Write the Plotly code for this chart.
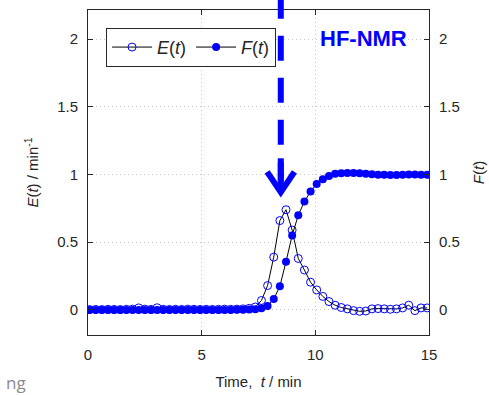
import plotly.graph_objects as go

# ---- data ----
time_min = [0.07, 0.34, 0.61, 0.88, 1.15, 1.42, 1.69, 1.96, 2.23, 2.50,
            2.77, 3.04, 3.31, 3.58, 3.85, 4.12, 4.39, 4.66, 4.93, 5.20,
            5.47, 5.74, 6.01, 6.28, 6.55, 6.82, 7.09, 7.36, 7.63, 7.90,
            8.17, 8.44, 8.71, 8.98, 9.25, 9.52, 9.79, 10.06, 10.33, 10.60,
            10.87, 11.14, 11.41, 11.68, 11.95, 12.22, 12.49, 12.76, 13.03, 13.30,
            13.57, 13.84, 14.11, 14.38, 14.65, 14.92]
E_t = [0.003, 0.004, 0.003, 0.005, 0.004, 0.003, 0.005, 0.006, 0.015, 0.006,
       0.004, 0.016, 0.005, 0.004, 0.005, 0.004, 0.006, 0.005, 0.004, 0.005,
       0.004, 0.005, 0.006, 0.005, 0.006, 0.008, 0.012, 0.022, 0.07, 0.18,
       0.39, 0.66, 0.74, 0.59, 0.38, 0.295, 0.205, 0.148, 0.10, 0.062,
       0.035, 0.018, 0.008, -0.005, -0.01, -0.008, 0.008, 0.01, 0.008, 0.005,
       0.008, 0.015, 0.035, -0.005, 0.015, 0.015]
F_t = [0.0, 0.0, 0.0, 0.0, 0.0, 0.0, 0.0, 0.0, 0.0, 0.0,
       0.0, 0.0, 0.0, 0.0, 0.0, 0.0, 0.0, 0.0, 0.0, 0.0,
       0.0, 0.0, 0.0, 0.0, 0.001, 0.002, 0.003, 0.005, 0.012, 0.03,
       0.08, 0.175, 0.356, 0.55, 0.70, 0.80, 0.875, 0.93, 0.965, 0.99,
       1.005, 1.01, 1.012, 1.012, 1.01, 1.006, 1.002, 0.999, 0.998, 0.997,
       0.997, 0.998, 1.0, 1.0, 0.998, 0.998]
tick_vals = [0, 0.5, 1, 1.5, 2]
tick_text = ["0", "0.5", "1", "1.5", "2"]
x_ticks = [0, 5, 10, 15]
arrow_t = 8.48
arrow_tip = 0.87

BLUE = "#0000ff"
AX = "#262626"
FONT = "Liberation Sans, Arial, sans-serif"

fig = go.Figure()
fig.add_trace(go.Scatter(
    x=time_min, y=F_t, mode="lines+markers", name="<i>F</i>(<i>t</i>)",
    line=dict(color="black", width=1),
    marker=dict(symbol="circle", size=8, color=BLUE),
    legendrank=2, yaxis="y2"))
fig.add_trace(go.Scatter(
    x=time_min, y=E_t, mode="lines+markers", name="<i>E</i>(<i>t</i>)",
    line=dict(color="black", width=1),
    marker=dict(symbol="circle-open", size=8, color=BLUE, line=dict(width=1)),
    legendrank=1))

yr = [-0.185, 2.215]
common_axis = dict(showline=True, linecolor=AX, linewidth=1, ticks="inside",
                   ticklen=5, tickcolor=AX, zeroline=False, automargin=False,
                   tickfont=dict(family=FONT, size=15, color=AX))
GRID = dict(showgrid=True, gridcolor="#c8c8c8", griddash="1px,3px", gridwidth=1)
fig.update_layout(
    width=489, height=396,
    margin=dict(l=88, r=60, t=10, b=61),
    paper_bgcolor="white", plot_bgcolor="white",
    font=dict(family=FONT, size=15, color=AX),
    xaxis=dict(range=[0, 15], tickvals=x_ticks, mirror="ticks",
               ticklabelstandoff=6,
               title=dict(text="Time,  <i>t</i> / min", font=dict(size=15, color=AX), standoff=14),
               **GRID, **common_axis),
    yaxis=dict(range=yr, tickvals=tick_vals, ticktext=tick_text, mirror="ticks",
               ticklabelstandoff=6,
               title=dict(text="<i>E</i>(<i>t</i>) / min<sup>-1</sup>", font=dict(size=15, color=AX), standoff=14),
               **GRID, **common_axis),
    yaxis2=dict(range=yr, tickvals=tick_vals, ticktext=tick_text, overlaying="y",
                side="right", showgrid=False, ticklabelstandoff=6,
                title=dict(text="<i>F</i>(<i>t</i>)", font=dict(size=15, color=AX), standoff=14),
                **common_axis),
    legend=dict(orientation="h", x=0.053, y=0.945, xanchor="left", yanchor="top",
                bgcolor="white", bordercolor=AX, borderwidth=1,
                font=dict(family=FONT, size=18, color=AX),
                itemwidth=40, tracegroupgap=0, traceorder="normal"),
    showlegend=True,
)

# dashed arrow line
fig.add_shape(type="line", xref="x", yref="paper", x0=arrow_t, x1=arrow_t,
              y0=1.05, y1=(arrow_tip + 0.08 - yr[0]) / (yr[1] - yr[0]),
              line=dict(color=BLUE, width=6, dash="25px,17px"))
# arrow head (chevron)
fig.add_shape(type="path", xref="x", yref="y",
              path=f"M {arrow_t-0.6} {arrow_tip+0.15} L {arrow_t} {arrow_tip} L {arrow_t+0.6} {arrow_tip+0.15}",
              line=dict(color=BLUE, width=6))
fig.add_shape(type="line", xref="x", yref="y", x0=arrow_t, x1=arrow_t,
              y0=arrow_tip + 0.25, y1=arrow_tip + 0.02,
              line=dict(color=BLUE, width=6))

fig.add_annotation(text="<b>HF-NMR</b>", xref="paper", yref="paper", x=0.809, y=0.911,
                   xanchor="center", yanchor="middle",
                   showarrow=False, font=dict(family=FONT, size=22, color=BLUE))
fig.add_annotation(text="ng", xref="paper", yref="paper", x=-0.176, y=-0.145,
                   xanchor="right", yanchor="middle", showarrow=False,
                   font=dict(family="Open Sans, sans-serif", size=17, color="#8a8a8a"))

fig.write_html("out.html", config={"displayModeBar": False},
               post_script="document.body.style.margin='0';document.body.style.padding='0';")
